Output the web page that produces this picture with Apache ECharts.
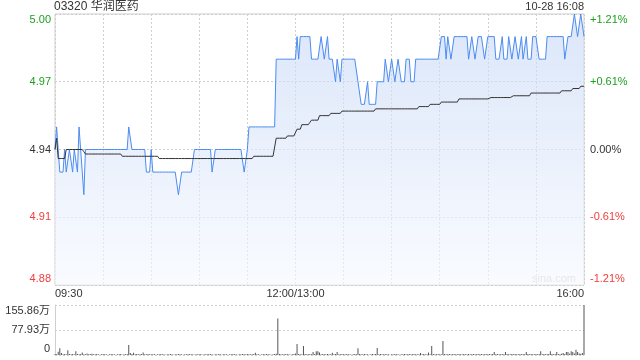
<!DOCTYPE html>
<html>
<head>
<meta charset="utf-8">
<script src="https://cdn.jsdelivr.net/npm/echarts@6/dist/echarts.min.js"></script>
<style>html,body{margin:0;padding:0;background:#fff}#c{width:640px;height:360px}</style>
</head>
<body>
<div id="c"></div>
<script>
// ---- data ----
const stockTitle = '03320 华润医药';
const stampText = '10-28 16:08';
const prevClose = 4.94;
const priceTicks = [4.88, 4.91, 4.94, 4.97, 5.00];
const volTicks = [0, 77.93, 155.86];
const xLabelPos = [0, 150, 330];
const xLabelText = ['09:30', '12:00/13:00', '16:00'];

// price per minute (index 0 = 09:30, 150 = 12:00/13:00, 330 = 16:00)
const price = [
4.94,4.95,4.94,4.93,4.93,4.93,4.94,4.93,4.93,4.94,
4.94,4.93,4.94,4.94,4.93,4.95,4.94,4.93,4.92,4.94,
4.94,4.94,4.94,4.94,4.94,4.94,4.94,4.94,4.94,4.94,
4.94,4.94,4.94,4.94,4.94,4.94,4.94,4.94,4.94,4.94,
4.94,4.94,4.94,4.94,4.94,4.94,4.95,4.95,4.94,4.94,
4.94,4.94,4.94,4.94,4.94,4.94,4.94,4.93,4.93,4.93,
4.94,4.93,4.93,4.93,4.93,4.93,4.93,4.93,4.93,4.93,
4.93,4.93,4.93,4.93,4.93,4.93,4.93,4.92,4.92,4.93,
4.93,4.93,4.93,4.93,4.93,4.93,4.93,4.94,4.94,4.94,
4.94,4.94,4.94,4.94,4.94,4.94,4.94,4.94,4.93,4.93,
4.94,4.94,4.94,4.94,4.94,4.94,4.94,4.94,4.94,4.94,
4.94,4.94,4.94,4.94,4.94,4.94,4.94,4.94,4.93,4.93,
4.94,4.95,4.95,4.95,4.95,4.95,4.95,4.95,4.95,4.95,
4.95,4.95,4.95,4.95,4.95,4.95,4.95,4.95,4.98,4.98,
4.98,4.98,4.98,4.98,4.98,4.98,4.98,4.98,4.98,4.98,
4.98,4.99,4.98,4.99,4.99,4.99,4.99,4.99,4.99,4.99,
4.98,4.98,4.98,4.98,4.98,4.98,4.99,4.99,4.98,4.98,
4.99,4.98,4.98,4.98,4.98,4.97,4.98,4.98,4.97,4.98,
4.98,4.98,4.98,4.98,4.98,4.98,4.98,4.98,4.98,4.97,
4.97,4.96,4.96,4.96,4.96,4.97,4.96,4.96,4.96,4.96,
4.96,4.97,4.97,4.97,4.97,4.97,4.98,4.98,4.97,4.97,
4.98,4.98,4.97,4.97,4.98,4.98,4.97,4.97,4.97,4.98,
4.98,4.98,4.97,4.97,4.97,4.98,4.98,4.98,4.98,4.98,
4.98,4.98,4.98,4.98,4.98,4.98,4.98,4.98,4.98,4.98,
4.98,4.99,4.99,4.99,4.98,4.99,4.99,4.98,4.98,4.99,
4.99,4.99,4.99,4.99,4.99,4.99,4.99,4.99,4.98,4.98,
4.99,4.99,4.98,4.98,4.99,4.99,4.99,4.99,4.98,4.98,
4.99,4.99,4.99,4.99,4.99,4.98,4.98,4.98,4.98,4.99,
4.98,4.98,4.98,4.99,4.99,4.98,4.98,4.99,4.99,4.98,
4.98,4.99,4.98,4.98,4.99,4.98,4.98,4.98,4.99,4.99,
4.99,4.99,4.98,4.98,4.98,4.98,4.98,4.99,4.99,4.99,
4.99,4.99,4.99,4.99,4.99,4.99,4.99,4.99,4.98,4.98,
4.99,4.99,4.99,4.99,5.00,5.00,4.99,4.99,5.00,5.00,
4.99
];

// average price per minute
const avgPrice = [
4.94,4.945,4.936,4.936,4.936,4.936,4.936,4.94,4.94,4.94,
4.94,4.94,4.94,4.94,4.94,4.94,4.94,4.94,4.939,4.938,
4.938,4.938,4.938,4.938,4.938,4.938,4.938,4.938,4.938,4.938,
4.938,4.938,4.938,4.938,4.938,4.938,4.938,4.938,4.938,4.938,
4.938,4.938,4.937,4.937,4.937,4.937,4.937,4.937,4.937,4.937,
4.937,4.937,4.937,4.937,4.937,4.937,4.937,4.937,4.937,4.937,
4.937,4.937,4.937,4.937,4.937,4.936,4.936,4.936,4.936,4.936,
4.936,4.936,4.936,4.936,4.936,4.936,4.936,4.936,4.936,4.936,
4.936,4.936,4.936,4.936,4.936,4.936,4.936,4.936,4.936,4.936,
4.936,4.936,4.936,4.936,4.936,4.936,4.936,4.936,4.936,4.936,
4.936,4.936,4.936,4.936,4.936,4.936,4.936,4.936,4.936,4.936,
4.936,4.936,4.936,4.936,4.936,4.936,4.936,4.936,4.936,4.936,
4.936,4.936,4.936,4.936,4.937,4.937,4.937,4.937,4.937,4.937,
4.937,4.937,4.937,4.937,4.937,4.937,4.937,4.937,4.945,4.945,
4.945,4.945,4.945,4.945,4.945,4.946,4.946,4.946,4.946,4.946,
4.946,4.949,4.949,4.949,4.951,4.951,4.951,4.951,4.951,4.952,
4.953,4.953,4.953,4.953,4.953,4.955,4.955,4.955,4.955,4.955,
4.955,4.955,4.956,4.956,4.956,4.956,4.956,4.956,4.956,4.957,
4.957,4.957,4.957,4.957,4.957,4.957,4.957,4.957,4.957,4.957,
4.957,4.957,4.957,4.957,4.957,4.957,4.957,4.957,4.957,4.957,
4.958,4.958,4.958,4.958,4.958,4.958,4.958,4.958,4.958,4.958,
4.958,4.958,4.958,4.958,4.958,4.958,4.958,4.958,4.958,4.958,
4.958,4.958,4.958,4.958,4.958,4.958,4.958,4.959,4.959,4.959,
4.959,4.959,4.959,4.959,4.960,4.960,4.960,4.960,4.960,4.960,
4.960,4.961,4.961,4.961,4.961,4.961,4.961,4.961,4.961,4.961,
4.961,4.961,4.9624,4.9624,4.9624,4.9624,4.9624,4.9624,4.9624,4.9624,
4.9624,4.9624,4.9624,4.9624,4.9624,4.9624,4.9624,4.9624,4.9624,4.9624,
4.9624,4.963,4.963,4.963,4.963,4.963,4.963,4.963,4.963,4.963,
4.963,4.963,4.963,4.963,4.963,4.9638,4.9638,4.9638,4.9638,4.9638,
4.9638,4.9638,4.9638,4.9638,4.9638,4.9638,4.9638,4.965,4.965,4.965,
4.965,4.965,4.965,4.965,4.965,4.965,4.965,4.965,4.965,4.965,
4.965,4.965,4.965,4.965,4.965,4.965,4.966,4.966,4.966,4.966,
4.966,4.966,4.966,4.967,4.967,4.967,4.967,4.967,4.968,4.968,
4.968
];

// volume per minute, in 万 shares
const volume = [
3,2,10,21,6,2,3,2,15,3,
2,3,2,12,3,2,3,8,2,2,
5,2,3,4,2,2,3,2,1,2,
3,2,2,1,2,3,2,2,1,2,
2,3,1,2,2,3,31,6,3,7,
2,3,2,2,3,8,2,2,3,2,
2,2,3,1,2,2,3,2,2,1,
2,2,3,2,1,2,2,3,2,2,
1,2,2,2,3,2,2,1,2,2,
2,3,1,2,2,2,3,2,2,1,
2,2,2,3,1,2,2,2,1,2,
2,3,2,2,1,2,2,3,2,2,
3,2,2,2,3,7,2,2,1,2,
2,2,3,2,2,1,2,3,4,114,
3,2,2,2,3,2,2,1,2,3,
5,34,3,2,2,28,3,2,2,3,
2,9,3,12,12,8,2,3,2,2,
3,2,2,7,2,3,9,2,2,3,
2,2,3,2,2,1,2,3,2,21,
3,2,2,3,2,2,1,2,3,2,
3,22,2,3,2,2,3,2,2,1,
2,2,3,2,2,1,2,2,3,2,
2,3,2,2,3,2,2,2,6,2,
3,2,2,8,2,28,3,2,2,3,
2,2,44,3,2,2,3,2,2,3,
2,2,3,2,2,3,2,2,3,2,
2,3,2,2,3,2,3,2,2,3,
2,3,2,3,9,2,3,2,2,3,
2,9,3,2,2,3,2,3,2,2,
3,2,3,2,9,3,2,3,2,2,
3,2,3,12,2,3,2,3,3,12,
3,2,3,9,3,2,4,6,3,9,
9,4,12,9,5,16,9,5,4,6,
155.86
];

// ---- chart ----
const FONT = '"Liberation Sans", Arial, "Noto Sans CJK SC", sans-serif';
const GREEN = '#1ea01e', RED = '#f03c3c', DARK = '#333333';
const pMin = priceTicks[0], pMax = priceTicks[priceTicks.length - 1];
const pInt = priceTicks[1] - priceTicks[0];

function colorFor(v) {
  const d = Math.round((Number(v) - prevClose) * 1000);
  return d > 0 ? GREEN : (d < 0 ? RED : DARK);
}
function edgeWrap(v, s, lo, hi) {
  const n = Number(v);
  if (Math.abs(n - hi) < 1e-6) return '\n' + s;
  if (Math.abs(n - lo) < 1e-6) return s + '\n';
  return s;
}

const chart = echarts.init(document.getElementById('c'), null, {renderer: 'canvas'});
chart.setOption({
  animation: false,
  textStyle: {fontFamily: FONT},
  title: [
    {text: stockTitle, left: 54, top: 1, padding: 0,
     textStyle: {fontSize: 12, fontWeight: 'normal', color: DARK, fontFamily: FONT}},
    {text: stampText, right: 56, top: 1, padding: 0,
     textStyle: {fontSize: 11, fontWeight: 'normal', color: DARK, fontFamily: FONT}}
  ],
  graphic: [
    {type: 'text', left: 532, top: 273, silent: true,
     style: {text: 'sina.com', fill: '#c8c8c8', font: '11px ' + FONT}}
  ],
  grid: [
    {left: 55, right: 56, top: 14, height: 271, show: true, borderColor: '#cfcfcf', borderWidth: 1,
     containLabel: false, outerBoundsMode: 'none'},
    {left: 55, right: 56, top: 305, height: 50, show: false,
     containLabel: false, outerBoundsMode: 'none'}
  ],
  xAxis: [
    {type: 'value', gridIndex: 0, min: 0, max: 330, interval: 30,
     axisLine: {show: false}, axisTick: {show: false},
     splitLine: {show: true, lineStyle: {color: '#cfcfcf', type: [2, 2], width: 1}},
     axisLabel: {
       margin: 3, fontSize: 11, color: DARK, fontFamily: FONT,
       alignMinLabel: 'left', alignMaxLabel: 'right',
       formatter: function (v) {
         const k = xLabelPos.indexOf(Math.round(v));
         return k >= 0 ? xLabelText[k] : '';
       }
     }},
    {type: 'value', gridIndex: 1, min: 0, max: 330, interval: 30,
     axisLine: {show: false}, axisTick: {show: false}, axisLabel: {show: false},
     splitLine: {show: false}}
  ],
  yAxis: [
    {type: 'value', gridIndex: 0, position: 'left', min: pMin, max: pMax, interval: pInt,
     axisLine: {show: false}, axisTick: {show: false},
     splitLine: {show: true, lineStyle: {color: '#cfcfcf', type: [2, 2], width: 1}},
     axisLabel: {
       margin: 4, fontSize: 11, lineHeight: 12, fontFamily: FONT,
       color: function (v) { return colorFor(v); },
       formatter: function (v) { return edgeWrap(v, Number(v).toFixed(2), pMin, pMax); }
     }},
    {type: 'value', gridIndex: 0, position: 'right', min: pMin, max: pMax, interval: pInt,
     axisLine: {show: false}, axisTick: {show: false}, splitLine: {show: false},
     axisLabel: {
       margin: 6, fontSize: 11, lineHeight: 12, fontFamily: FONT,
       color: function (v) { return colorFor(v); },
       formatter: function (v) {
         const pct = (Number(v) - prevClose) / prevClose * 100;
         let s = Math.abs(pct) < 0.005 ? '0.00%' : (pct > 0 ? '+' : '') + pct.toFixed(2) + '%';
         return edgeWrap(v, s, pMin, pMax);
       }
     }},
    {type: 'value', gridIndex: 1, min: volTicks[0], max: volTicks[2], interval: volTicks[1],
     axisLine: {show: true, lineStyle: {color: '#cfcfcf'}}, axisTick: {show: false},
     splitLine: {show: true, lineStyle: {color: '#cfcfcf', type: [2, 2], width: 1}},
     axisLabel: {
       margin: 5, fontSize: 11, lineHeight: 12, color: DARK, fontFamily: FONT,
       formatter: function (v) {
         const n = Number(v);
         const s = n === 0 ? '0' : n.toFixed(2) + '万';
         return edgeWrap(n, s, volTicks[0], volTicks[2]);
       }
     }}
  ],
  series: [
    {type: 'line', xAxisIndex: 0, yAxisIndex: 0, showSymbol: false, symbol: 'none',
     data: price.map(function (p, i) { return [i, p]; }),
     lineStyle: {color: '#4c8cf0', width: 1},
     itemStyle: {color: '#4c8cf0'},
     areaStyle: {origin: 'start', color: new echarts.graphic.LinearGradient(0, 0, 0, 1, [
       {offset: 0, color: 'rgba(196,214,246,0.85)'},
       {offset: 1, color: 'rgba(246,249,255,0.9)'}
     ])},
     z: 2},
    {type: 'line', xAxisIndex: 0, yAxisIndex: 0, showSymbol: false, symbol: 'none',
     data: avgPrice.map(function (p, i) { return [i, p]; }),
     lineStyle: {color: '#333333', width: 1}, itemStyle: {color: '#333333'}, z: 3},
    {type: 'bar', xAxisIndex: 1, yAxisIndex: 2, barWidth: 1,
     data: volume.map(function (v, i) { return [i, v]; }),
     itemStyle: {color: '#555555'}}
  ]
});
</script>
</body>
</html>
